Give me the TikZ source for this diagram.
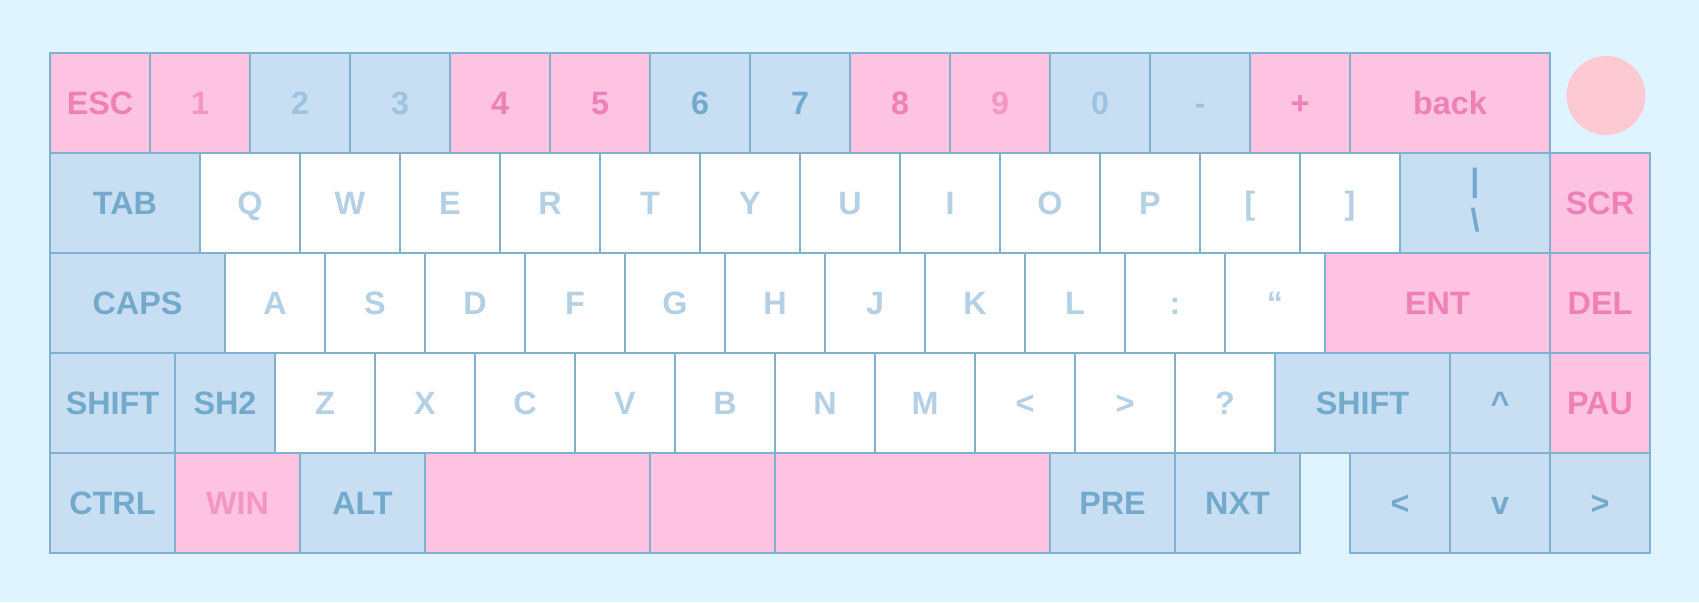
\documentclass[tikz,border=0pt]{standalone}
\usepackage{fontspec}
\setmainfont{Liberation Sans}
\usetikzlibrary{positioning}
\definecolor{bgblue}{HTML}{E0F4FF}
\definecolor{keyline}{HTML}{80B2CF}
\definecolor{pinkfill}{HTML}{FEC3E0}
\definecolor{bluefill}{HTML}{C8DEF3}
\definecolor{pinktxt}{HTML}{EE80B7}
\definecolor{pinksoft}{HTML}{F296C6}
\definecolor{bluetxt}{HTML}{73A9CB}
\definecolor{bluemid}{HTML}{9DC3E0}
\definecolor{bluesoft}{HTML}{B3D0E5}
\definecolor{knobpink}{HTML}{FDCAD3}

\begin{document}
\begin{tikzpicture}[key/.style={draw=keyline, line width=0.5pt, outer sep=0pt, inner sep=0pt, minimum width=#1cm, minimum height=1cm, text height=0.23cm, text depth=0pt, font=\fontsize{9.2}{11.4}\selectfont\bfseries},
  pk/.style={fill=pinkfill, text=pinktxt}, pl/.style={fill=pinkfill, text=pinksoft},
  bd/.style={fill=bluefill, text=bluetxt}, bm/.style={fill=bluefill, text=bluemid},
  wk/.style={fill=white, text=bluesoft}]
\fill[bgblue] (0,0) rectangle (16.99,-6.02);
\node[circle, fill=knobpink, minimum size=0.79cm, inner sep=0pt] (knob) at (16.06,-0.955) {};

% number row
\coordinate (a0) at (0.5,-1.03);
\foreach \lab/\kw/\kc [count=\i, remember=\i as \j (initially 0)] in {ESC/1/pk, 1/1/pl, 2/1/bm, 3/1/bm, 4/1/pk, 5/1/pk, 6/1/bd, 7/1/bd, 8/1/pk, 9/1/pl, 0/1/bm, -/1/bm, +/1/pk, back/2/pk}
  \node[key=\kw, \kc, right=0pt of a\j] (a\i) {\lab};

% top letter row
\coordinate (b0) at (0.5,-2.03);
\foreach \lab/\kw/\kc [count=\i, remember=\i as \j (initially 0)] in {TAB/1.5/bd, Q/1/wk, W/1/wk, E/1/wk, R/1/wk, T/1/wk, Y/1/wk, U/1/wk, I/1/wk, O/1/wk, P/1/wk, {[}/1/wk, {]}/1/wk}
  \node[key=\kw, \kc, right=0pt of b\j] (b\i) {\lab};
\node[key=1.5, bd, align=center, text height=0.786cm, text depth=0.214cm, right=0pt of b13] (b14) {|\\\textbackslash};
\node[key=1, pk, right=0pt of b14] (b15) {SCR};

% home row
\coordinate (c0) at (0.5,-3.03);
\foreach \lab/\kw/\kc [count=\i, remember=\i as \j (initially 0)] in {CAPS/1.75/bd, A/1/wk, S/1/wk, D/1/wk, F/1/wk, G/1/wk, H/1/wk, J/1/wk, K/1/wk, L/1/wk, {:}/1/wk, “/1/wk, ENT/2.25/pk, DEL/1/pk}
  \node[key=\kw, \kc, right=0pt of c\j] (c\i) {\lab};

% bottom letter row
\coordinate (d0) at (0.5,-4.03);
\foreach \lab/\kw/\kc [count=\i, remember=\i as \j (initially 0)] in {SHIFT/1.25/bd, SH2/1/bd, Z/1/wk, X/1/wk, C/1/wk, V/1/wk, B/1/wk, N/1/wk, M/1/wk, {<}/1/wk, {>}/1/wk, ?/1/wk, SHIFT/1.75/bd, \textasciicircum/1/bd, PAU/1/pk}
  \node[key=\kw, \kc, right=0pt of d\j] (d\i) {\lab};

% space row + arrows
\coordinate (e0) at (0.5,-5.03);
\foreach \lab/\kw/\kc [count=\i, remember=\i as \j (initially 0)] in {CTRL/1.25/bd, WIN/1.25/pl, ALT/1.25/bd, {}/2.25/pk, {}/1.25/pk, {}/2.75/pk, PRE/1.25/bd, NXT/1.25/bd}
  \node[key=\kw, \kc, right=0pt of e\j] (e\i) {\lab};
\node[key=1, bd, right=0.5cm of e8] (e9) {<};
\node[key=1, bd, right=0pt of e9] (e10) {v};
\node[key=1, bd, right=0pt of e10] (e11) {>};
\end{tikzpicture}
\end{document}
